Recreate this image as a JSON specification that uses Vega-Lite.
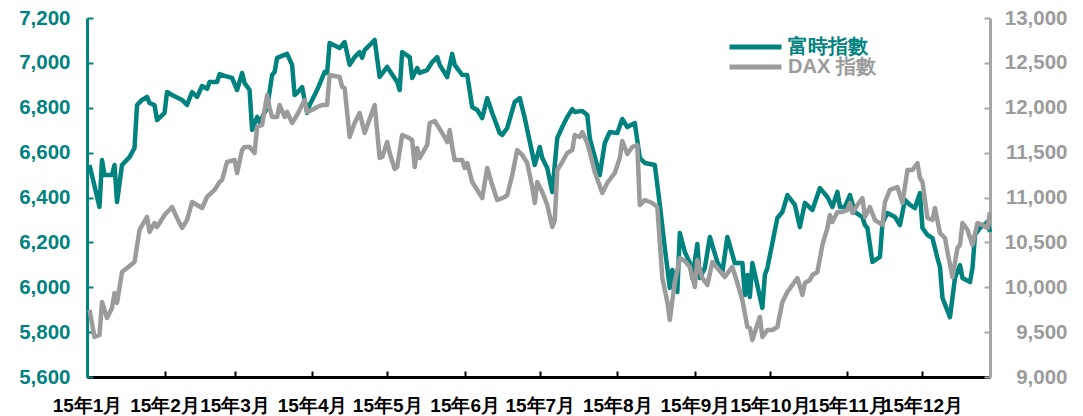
{
  "$schema": "https://vega.github.io/schema/vega-lite/v6.json",
  "width": 903,
  "height": 359,
  "autosize": {"type": "none"},
  "padding": {"left": 87, "top": 18, "right": 93, "bottom": 39},
  "background": "white",
  "config": {
    "view": {"stroke": null},
    "font": "Liberation Sans"
  },
  "datasets": {
    "ftse": [
      {"date": "2015-01-02", "v": 6545}, {"date": "2015-01-06", "v": 6358}, {"date": "2015-01-07", "v": 6567},
      {"date": "2015-01-08", "v": 6500}, {"date": "2015-01-11", "v": 6500}, {"date": "2015-01-12", "v": 6545},
      {"date": "2015-01-13", "v": 6380}, {"date": "2015-01-15", "v": 6545}, {"date": "2015-01-18", "v": 6580},
      {"date": "2015-01-20", "v": 6621}, {"date": "2015-01-21", "v": 6812}, {"date": "2015-01-23", "v": 6835},
      {"date": "2015-01-25", "v": 6848}, {"date": "2015-01-26", "v": 6821}, {"date": "2015-01-28", "v": 6812},
      {"date": "2015-01-29", "v": 6745}, {"date": "2015-02-01", "v": 6777}, {"date": "2015-02-02", "v": 6870},
      {"date": "2015-02-04", "v": 6857}, {"date": "2015-02-08", "v": 6835}, {"date": "2015-02-10", "v": 6812},
      {"date": "2015-02-12", "v": 6870}, {"date": "2015-02-14", "v": 6848}, {"date": "2015-02-16", "v": 6897},
      {"date": "2015-02-18", "v": 6884}, {"date": "2015-02-19", "v": 6915}, {"date": "2015-02-22", "v": 6915},
      {"date": "2015-02-23", "v": 6950}, {"date": "2015-02-25", "v": 6942}, {"date": "2015-02-28", "v": 6933},
      {"date": "2015-03-02", "v": 6879}, {"date": "2015-03-04", "v": 6955}, {"date": "2015-03-05", "v": 6910},
      {"date": "2015-03-07", "v": 6879}, {"date": "2015-03-08", "v": 6701}, {"date": "2015-03-10", "v": 6759},
      {"date": "2015-03-11", "v": 6736}, {"date": "2015-03-14", "v": 6799}, {"date": "2015-03-16", "v": 6946},
      {"date": "2015-03-17", "v": 6959}, {"date": "2015-03-18", "v": 7022}, {"date": "2015-03-22", "v": 7040},
      {"date": "2015-03-24", "v": 6991}, {"date": "2015-03-25", "v": 6857}, {"date": "2015-03-26", "v": 6866},
      {"date": "2015-03-28", "v": 6892}, {"date": "2015-03-30", "v": 6777}, {"date": "2015-03-31", "v": 6812},
      {"date": "2015-04-03", "v": 6879}, {"date": "2015-04-06", "v": 6959}, {"date": "2015-04-07", "v": 6955},
      {"date": "2015-04-08", "v": 7089}, {"date": "2015-04-12", "v": 7066}, {"date": "2015-04-14", "v": 7093},
      {"date": "2015-04-16", "v": 6991}, {"date": "2015-04-18", "v": 7026}, {"date": "2015-04-20", "v": 7048},
      {"date": "2015-04-21", "v": 7022}, {"date": "2015-04-22", "v": 7057}, {"date": "2015-04-26", "v": 7102},
      {"date": "2015-04-28", "v": 6937}, {"date": "2015-05-01", "v": 6982}, {"date": "2015-05-05", "v": 6915},
      {"date": "2015-05-06", "v": 6879}, {"date": "2015-05-07", "v": 7048}, {"date": "2015-05-10", "v": 7026},
      {"date": "2015-05-11", "v": 6933}, {"date": "2015-05-13", "v": 6977}, {"date": "2015-05-14", "v": 6955},
      {"date": "2015-05-17", "v": 6968}, {"date": "2015-05-19", "v": 7004}, {"date": "2015-05-21", "v": 7026},
      {"date": "2015-05-22", "v": 6991}, {"date": "2015-05-25", "v": 6937}, {"date": "2015-05-27", "v": 7040},
      {"date": "2015-05-28", "v": 6991}, {"date": "2015-05-31", "v": 6946}, {"date": "2015-06-02", "v": 6946},
      {"date": "2015-06-04", "v": 6803}, {"date": "2015-06-06", "v": 6790}, {"date": "2015-06-08", "v": 6754},
      {"date": "2015-06-10", "v": 6843}, {"date": "2015-06-12", "v": 6777}, {"date": "2015-06-15", "v": 6687},
      {"date": "2015-06-16", "v": 6679}, {"date": "2015-06-18", "v": 6710}, {"date": "2015-06-21", "v": 6826},
      {"date": "2015-06-23", "v": 6843}, {"date": "2015-06-25", "v": 6754}, {"date": "2015-06-29", "v": 6545},
      {"date": "2015-07-01", "v": 6625}, {"date": "2015-07-02", "v": 6576}, {"date": "2015-07-04", "v": 6531},
      {"date": "2015-07-06", "v": 6424}, {"date": "2015-07-07", "v": 6545}, {"date": "2015-07-08", "v": 6665},
      {"date": "2015-07-10", "v": 6714}, {"date": "2015-07-12", "v": 6759}, {"date": "2015-07-14", "v": 6794},
      {"date": "2015-07-15", "v": 6781}, {"date": "2015-07-18", "v": 6786}, {"date": "2015-07-20", "v": 6768},
      {"date": "2015-07-21", "v": 6665}, {"date": "2015-07-22", "v": 6621}, {"date": "2015-07-25", "v": 6500},
      {"date": "2015-07-27", "v": 6643}, {"date": "2015-07-29", "v": 6692}, {"date": "2015-08-01", "v": 6687},
      {"date": "2015-08-03", "v": 6750}, {"date": "2015-08-05", "v": 6714}, {"date": "2015-08-08", "v": 6732},
      {"date": "2015-08-10", "v": 6576}, {"date": "2015-08-12", "v": 6554}, {"date": "2015-08-16", "v": 6545},
      {"date": "2015-08-18", "v": 6367}, {"date": "2015-08-20", "v": 6175}, {"date": "2015-08-22", "v": 5997},
      {"date": "2015-08-23", "v": 6077}, {"date": "2015-08-25", "v": 5979}, {"date": "2015-08-26", "v": 6242},
      {"date": "2015-08-28", "v": 6157}, {"date": "2015-08-30", "v": 6108}, {"date": "2015-08-31", "v": 6041},
      {"date": "2015-09-02", "v": 6193}, {"date": "2015-09-03", "v": 6041}, {"date": "2015-09-05", "v": 6086},
      {"date": "2015-09-07", "v": 6224}, {"date": "2015-09-10", "v": 6113}, {"date": "2015-09-12", "v": 6068},
      {"date": "2015-09-14", "v": 6224}, {"date": "2015-09-17", "v": 6108}, {"date": "2015-09-20", "v": 6108},
      {"date": "2015-09-21", "v": 5965}, {"date": "2015-09-22", "v": 6055}, {"date": "2015-09-23", "v": 5957},
      {"date": "2015-09-24", "v": 6108}, {"date": "2015-09-28", "v": 5908}, {"date": "2015-09-29", "v": 6055},
      {"date": "2015-09-30", "v": 6086}, {"date": "2015-10-04", "v": 6309}, {"date": "2015-10-06", "v": 6335},
      {"date": "2015-10-08", "v": 6411}, {"date": "2015-10-11", "v": 6367}, {"date": "2015-10-13", "v": 6268},
      {"date": "2015-10-15", "v": 6376}, {"date": "2015-10-18", "v": 6344}, {"date": "2015-10-21", "v": 6442},
      {"date": "2015-10-24", "v": 6402}, {"date": "2015-10-26", "v": 6358}, {"date": "2015-10-28", "v": 6425},
      {"date": "2015-10-29", "v": 6358}, {"date": "2015-10-31", "v": 6358}, {"date": "2015-11-02", "v": 6411},
      {"date": "2015-11-04", "v": 6335}, {"date": "2015-11-07", "v": 6313}, {"date": "2015-11-08", "v": 6277},
      {"date": "2015-11-09", "v": 6264}, {"date": "2015-11-11", "v": 6113}, {"date": "2015-11-14", "v": 6135},
      {"date": "2015-11-15", "v": 6286}, {"date": "2015-11-17", "v": 6331}, {"date": "2015-11-20", "v": 6313},
      {"date": "2015-11-22", "v": 6277}, {"date": "2015-11-24", "v": 6389}, {"date": "2015-11-26", "v": 6367},
      {"date": "2015-11-28", "v": 6353}, {"date": "2015-11-30", "v": 6420}, {"date": "2015-12-01", "v": 6264},
      {"date": "2015-12-03", "v": 6233}, {"date": "2015-12-05", "v": 6219}, {"date": "2015-12-07", "v": 6130},
      {"date": "2015-12-08", "v": 6090}, {"date": "2015-12-09", "v": 5952}, {"date": "2015-12-12", "v": 5867},
      {"date": "2015-12-14", "v": 6041}, {"date": "2015-12-16", "v": 6099}, {"date": "2015-12-17", "v": 6041},
      {"date": "2015-12-20", "v": 6023}, {"date": "2015-12-21", "v": 6086}, {"date": "2015-12-22", "v": 6233},
      {"date": "2015-12-24", "v": 6264}, {"date": "2015-12-27", "v": 6291}, {"date": "2015-12-28", "v": 6246}
    ],
    "dax": [
      {"date": "2015-01-02", "v": 9747}, {"date": "2015-01-04", "v": 9446}, {"date": "2015-01-06", "v": 9468},
      {"date": "2015-01-07", "v": 9836}, {"date": "2015-01-09", "v": 9657}, {"date": "2015-01-11", "v": 9769},
      {"date": "2015-01-12", "v": 9936}, {"date": "2015-01-13", "v": 9825}, {"date": "2015-01-15", "v": 10170},
      {"date": "2015-01-17", "v": 10215}, {"date": "2015-01-20", "v": 10281}, {"date": "2015-01-22", "v": 10638},
      {"date": "2015-01-25", "v": 10783}, {"date": "2015-01-26", "v": 10616}, {"date": "2015-01-28", "v": 10716},
      {"date": "2015-01-29", "v": 10671}, {"date": "2015-02-01", "v": 10805}, {"date": "2015-02-04", "v": 10894},
      {"date": "2015-02-06", "v": 10772}, {"date": "2015-02-08", "v": 10660}, {"date": "2015-02-10", "v": 10749},
      {"date": "2015-02-12", "v": 10950}, {"date": "2015-02-16", "v": 10883}, {"date": "2015-02-18", "v": 11006},
      {"date": "2015-02-21", "v": 11084}, {"date": "2015-02-23", "v": 11173}, {"date": "2015-02-24", "v": 11195},
      {"date": "2015-02-26", "v": 11396}, {"date": "2015-03-01", "v": 11418}, {"date": "2015-03-02", "v": 11273},
      {"date": "2015-03-04", "v": 11529}, {"date": "2015-03-05", "v": 11563}, {"date": "2015-03-07", "v": 11563},
      {"date": "2015-03-09", "v": 11496}, {"date": "2015-03-10", "v": 11786}, {"date": "2015-03-12", "v": 11808},
      {"date": "2015-03-14", "v": 12142}, {"date": "2015-03-15", "v": 11997}, {"date": "2015-03-16", "v": 11897},
      {"date": "2015-03-18", "v": 11897}, {"date": "2015-03-19", "v": 12031}, {"date": "2015-03-21", "v": 11897},
      {"date": "2015-03-22", "v": 11953}, {"date": "2015-03-24", "v": 11830}, {"date": "2015-03-26", "v": 11919},
      {"date": "2015-03-29", "v": 12086}, {"date": "2015-03-30", "v": 11953}, {"date": "2015-04-01", "v": 11975},
      {"date": "2015-04-03", "v": 12008}, {"date": "2015-04-05", "v": 12031}, {"date": "2015-04-07", "v": 12031},
      {"date": "2015-04-08", "v": 12365}, {"date": "2015-04-12", "v": 12343}, {"date": "2015-04-13", "v": 12231},
      {"date": "2015-04-14", "v": 12220}, {"date": "2015-04-16", "v": 11674}, {"date": "2015-04-18", "v": 11830},
      {"date": "2015-04-20", "v": 11941}, {"date": "2015-04-22", "v": 11719}, {"date": "2015-04-26", "v": 12031},
      {"date": "2015-04-28", "v": 11440}, {"date": "2015-04-29", "v": 11451}, {"date": "2015-05-01", "v": 11618},
      {"date": "2015-05-02", "v": 11496}, {"date": "2015-05-04", "v": 11318}, {"date": "2015-05-05", "v": 11340},
      {"date": "2015-05-07", "v": 11696}, {"date": "2015-05-09", "v": 11674}, {"date": "2015-05-11", "v": 11641},
      {"date": "2015-05-12", "v": 11340}, {"date": "2015-05-13", "v": 11552}, {"date": "2015-05-14", "v": 11440},
      {"date": "2015-05-17", "v": 11585}, {"date": "2015-05-18", "v": 11830}, {"date": "2015-05-20", "v": 11852},
      {"date": "2015-05-23", "v": 11719}, {"date": "2015-05-25", "v": 11618}, {"date": "2015-05-26", "v": 11752},
      {"date": "2015-05-27", "v": 11563}, {"date": "2015-05-28", "v": 11418}, {"date": "2015-05-31", "v": 11418},
      {"date": "2015-06-01", "v": 11329}, {"date": "2015-06-02", "v": 11384}, {"date": "2015-06-04", "v": 11173},
      {"date": "2015-06-08", "v": 10994}, {"date": "2015-06-10", "v": 11329}, {"date": "2015-06-12", "v": 11139},
      {"date": "2015-06-14", "v": 10972}, {"date": "2015-06-16", "v": 10994}, {"date": "2015-06-17", "v": 11006},
      {"date": "2015-06-18", "v": 11028}, {"date": "2015-06-20", "v": 11251}, {"date": "2015-06-22", "v": 11529},
      {"date": "2015-06-24", "v": 11474}, {"date": "2015-06-26", "v": 11384}, {"date": "2015-06-28", "v": 11117},
      {"date": "2015-06-29", "v": 10939}, {"date": "2015-06-30", "v": 11173}, {"date": "2015-07-02", "v": 11061},
      {"date": "2015-07-04", "v": 10916}, {"date": "2015-07-06", "v": 10671}, {"date": "2015-07-07", "v": 10749},
      {"date": "2015-07-08", "v": 11306}, {"date": "2015-07-10", "v": 11396}, {"date": "2015-07-12", "v": 11496},
      {"date": "2015-07-14", "v": 11529}, {"date": "2015-07-15", "v": 11696}, {"date": "2015-07-17", "v": 11674},
      {"date": "2015-07-18", "v": 11730}, {"date": "2015-07-20", "v": 11607}, {"date": "2015-07-21", "v": 11507},
      {"date": "2015-07-23", "v": 11284}, {"date": "2015-07-26", "v": 11050}, {"date": "2015-07-28", "v": 11162},
      {"date": "2015-07-31", "v": 11273}, {"date": "2015-08-02", "v": 11440}, {"date": "2015-08-03", "v": 11630},
      {"date": "2015-08-05", "v": 11485}, {"date": "2015-08-07", "v": 11563}, {"date": "2015-08-09", "v": 11585},
      {"date": "2015-08-10", "v": 10916}, {"date": "2015-08-12", "v": 10972}, {"date": "2015-08-15", "v": 10939},
      {"date": "2015-08-17", "v": 10894}, {"date": "2015-08-19", "v": 10103}, {"date": "2015-08-21", "v": 9836},
      {"date": "2015-08-22", "v": 9635}, {"date": "2015-08-24", "v": 10059}, {"date": "2015-08-26", "v": 10326},
      {"date": "2015-08-28", "v": 10293}, {"date": "2015-08-30", "v": 10226}, {"date": "2015-09-01", "v": 10003},
      {"date": "2015-09-02", "v": 10304}, {"date": "2015-09-04", "v": 10103}, {"date": "2015-09-06", "v": 10025},
      {"date": "2015-09-08", "v": 10281}, {"date": "2015-09-10", "v": 10215}, {"date": "2015-09-13", "v": 10114},
      {"date": "2015-09-15", "v": 10192}, {"date": "2015-09-16", "v": 10226}, {"date": "2015-09-18", "v": 10047},
      {"date": "2015-09-20", "v": 9858}, {"date": "2015-09-22", "v": 9557}, {"date": "2015-09-23", "v": 9546},
      {"date": "2015-09-24", "v": 9412}, {"date": "2015-09-25", "v": 9501}, {"date": "2015-09-27", "v": 9669},
      {"date": "2015-09-28", "v": 9446}, {"date": "2015-09-30", "v": 9524}, {"date": "2015-10-02", "v": 9524},
      {"date": "2015-10-04", "v": 9557}, {"date": "2015-10-06", "v": 9836}, {"date": "2015-10-08", "v": 9947},
      {"date": "2015-10-10", "v": 10025}, {"date": "2015-10-12", "v": 10103}, {"date": "2015-10-14", "v": 9914},
      {"date": "2015-10-15", "v": 10047}, {"date": "2015-10-17", "v": 10081}, {"date": "2015-10-18", "v": 10137},
      {"date": "2015-10-20", "v": 10170}, {"date": "2015-10-22", "v": 10471}, {"date": "2015-10-24", "v": 10660},
      {"date": "2015-10-25", "v": 10805}, {"date": "2015-10-26", "v": 10727}, {"date": "2015-10-28", "v": 10838},
      {"date": "2015-10-30", "v": 10838}, {"date": "2015-11-01", "v": 10861}, {"date": "2015-11-02", "v": 10939},
      {"date": "2015-11-03", "v": 10827}, {"date": "2015-11-05", "v": 10916}, {"date": "2015-11-07", "v": 10994},
      {"date": "2015-11-08", "v": 10783}, {"date": "2015-11-10", "v": 10894}, {"date": "2015-11-12", "v": 10749},
      {"date": "2015-11-15", "v": 10694}, {"date": "2015-11-16", "v": 10950}, {"date": "2015-11-18", "v": 11084},
      {"date": "2015-11-21", "v": 11117}, {"date": "2015-11-23", "v": 10939}, {"date": "2015-11-25", "v": 11306},
      {"date": "2015-11-27", "v": 11306}, {"date": "2015-11-29", "v": 11384}, {"date": "2015-11-30", "v": 11217},
      {"date": "2015-12-01", "v": 11173}, {"date": "2015-12-03", "v": 10772}, {"date": "2015-12-05", "v": 10749},
      {"date": "2015-12-06", "v": 10883}, {"date": "2015-12-08", "v": 10604}, {"date": "2015-12-10", "v": 10549},
      {"date": "2015-12-11", "v": 10393}, {"date": "2015-12-13", "v": 10114}, {"date": "2015-12-15", "v": 10437},
      {"date": "2015-12-16", "v": 10471}, {"date": "2015-12-17", "v": 10716}, {"date": "2015-12-19", "v": 10638},
      {"date": "2015-12-21", "v": 10471}, {"date": "2015-12-23", "v": 10716}, {"date": "2015-12-25", "v": 10694},
      {"date": "2015-12-27", "v": 10660}, {"date": "2015-12-28", "v": 10838}
    ]
  },
  "encoding": {
    "x": {
      "field": "date",
      "type": "temporal",
      "scale": {
        "type": "utc",
        "domain": [
          {"year": 2015, "month": 1, "date": 1, "utc": true},
          {"year": 2015, "month": 12, "date": 28, "utc": true}
        ]
      },
      "axis": {
        "title": null,
        "values": [
          {"year": 2015, "month": 1, "date": 1, "utc": true},
          {"year": 2015, "month": 2, "date": 1, "utc": true},
          {"year": 2015, "month": 3, "date": 1, "utc": true},
          {"year": 2015, "month": 4, "date": 1, "utc": true},
          {"year": 2015, "month": 5, "date": 1, "utc": true},
          {"year": 2015, "month": 6, "date": 1, "utc": true},
          {"year": 2015, "month": 7, "date": 1, "utc": true},
          {"year": 2015, "month": 8, "date": 1, "utc": true},
          {"year": 2015, "month": 9, "date": 1, "utc": true},
          {"year": 2015, "month": 10, "date": 1, "utc": true},
          {"year": 2015, "month": 11, "date": 1, "utc": true},
          {"year": 2015, "month": 12, "date": 1, "utc": true}
        ],
        "labelExpr": "'15年' + (utcmonth(datum.value) + 1) + '月'",
        "grid": false,
        "domainColor": "#000000",
        "domainWidth": 3,
        "tickColor": "#000000",
        "tickWidth": 2,
        "tickSize": -6,
        "labelColor": "#000000",
        "labelFont": "Liberation Sans",
        "labelFontSize": 19,
        "labelFontWeight": "bold",
        "labelPadding": 25,
        "labelFlush": false,
        "labelOverlap": false
      }
    }
  },
  "layer": [
    {
      "data": {"name": "ftse"},
      "mark": {"type": "line", "strokeWidth": 4.5, "strokeJoin": "round"},
      "encoding": {
        "y": {
          "field": "v",
          "type": "quantitative",
          "scale": {"domain": [5600, 7200], "nice": false, "zero": false},
          "axis": {
            "orient": "left",
            "title": null,
            "values": [5600, 5800, 6000, 6200, 6400, 6600, 6800, 7000, 7200],
            "format": ",.0f",
            "grid": false,
            "domainColor": "#00827F",
            "domainWidth": 3,
            "tickColor": "#00827F",
            "tickWidth": 2,
            "tickSize": -6,
            "labelColor": "#00827F",
            "labelFont": "Liberation Sans",
            "labelFontSize": 20.5,
            "labelFontWeight": "bold",
            "labelPadding": 23,
            "labelFlush": false,
            "labelOverlap": false
          }
        },
        "color": {
          "datum": "富時指數",
          "scale": {"domain": ["富時指數", "DAX 指數"], "range": ["#00827F", "#9B9B9B"]},
          "legend": {
            "title": null,
            "orient": "none",
            "legendX": 640,
            "legendY": 19,
            "direction": "vertical",
            "symbolType": "stroke",
            "symbolSize": 2704,
            "symbolStrokeWidth": 5,
            "clipHeight": 20,
            "rowPadding": 0,
            "labelFont": "Liberation Sans",
            "labelFontSize": 20,
            "labelFontWeight": "bold",
            "labelOffset": 4,
            "encode": {
              "labels": {"update": {"fill": {"signal": "scale('color', datum.value)"}}}
            }
          }
        }
      }
    },
    {
      "data": {"name": "dax"},
      "mark": {"type": "line", "strokeWidth": 4.5, "strokeJoin": "round"},
      "encoding": {
        "y": {
          "field": "v",
          "type": "quantitative",
          "scale": {"domain": [9000, 13000], "nice": false, "zero": false},
          "axis": {
            "orient": "right",
            "title": null,
            "values": [9000, 9500, 10000, 10500, 11000, 11500, 12000, 12500, 13000],
            "format": ",.0f",
            "grid": false,
            "domainColor": "#A6A6A6",
            "domainWidth": 3,
            "tickColor": "#A6A6A6",
            "tickWidth": 2,
            "tickSize": -6,
            "labelColor": "#9B9B9B",
            "labelFont": "Liberation Sans",
            "labelFontSize": 20.5,
            "labelFontWeight": "bold",
            "labelAlign": "right",
            "labelPadding": 83,
            "labelFlush": false,
            "labelOverlap": false
          }
        },
        "color": {"datum": "DAX 指數"}
      }
    }
  ],
  "resolve": {"scale": {"y": "independent"}}
}
